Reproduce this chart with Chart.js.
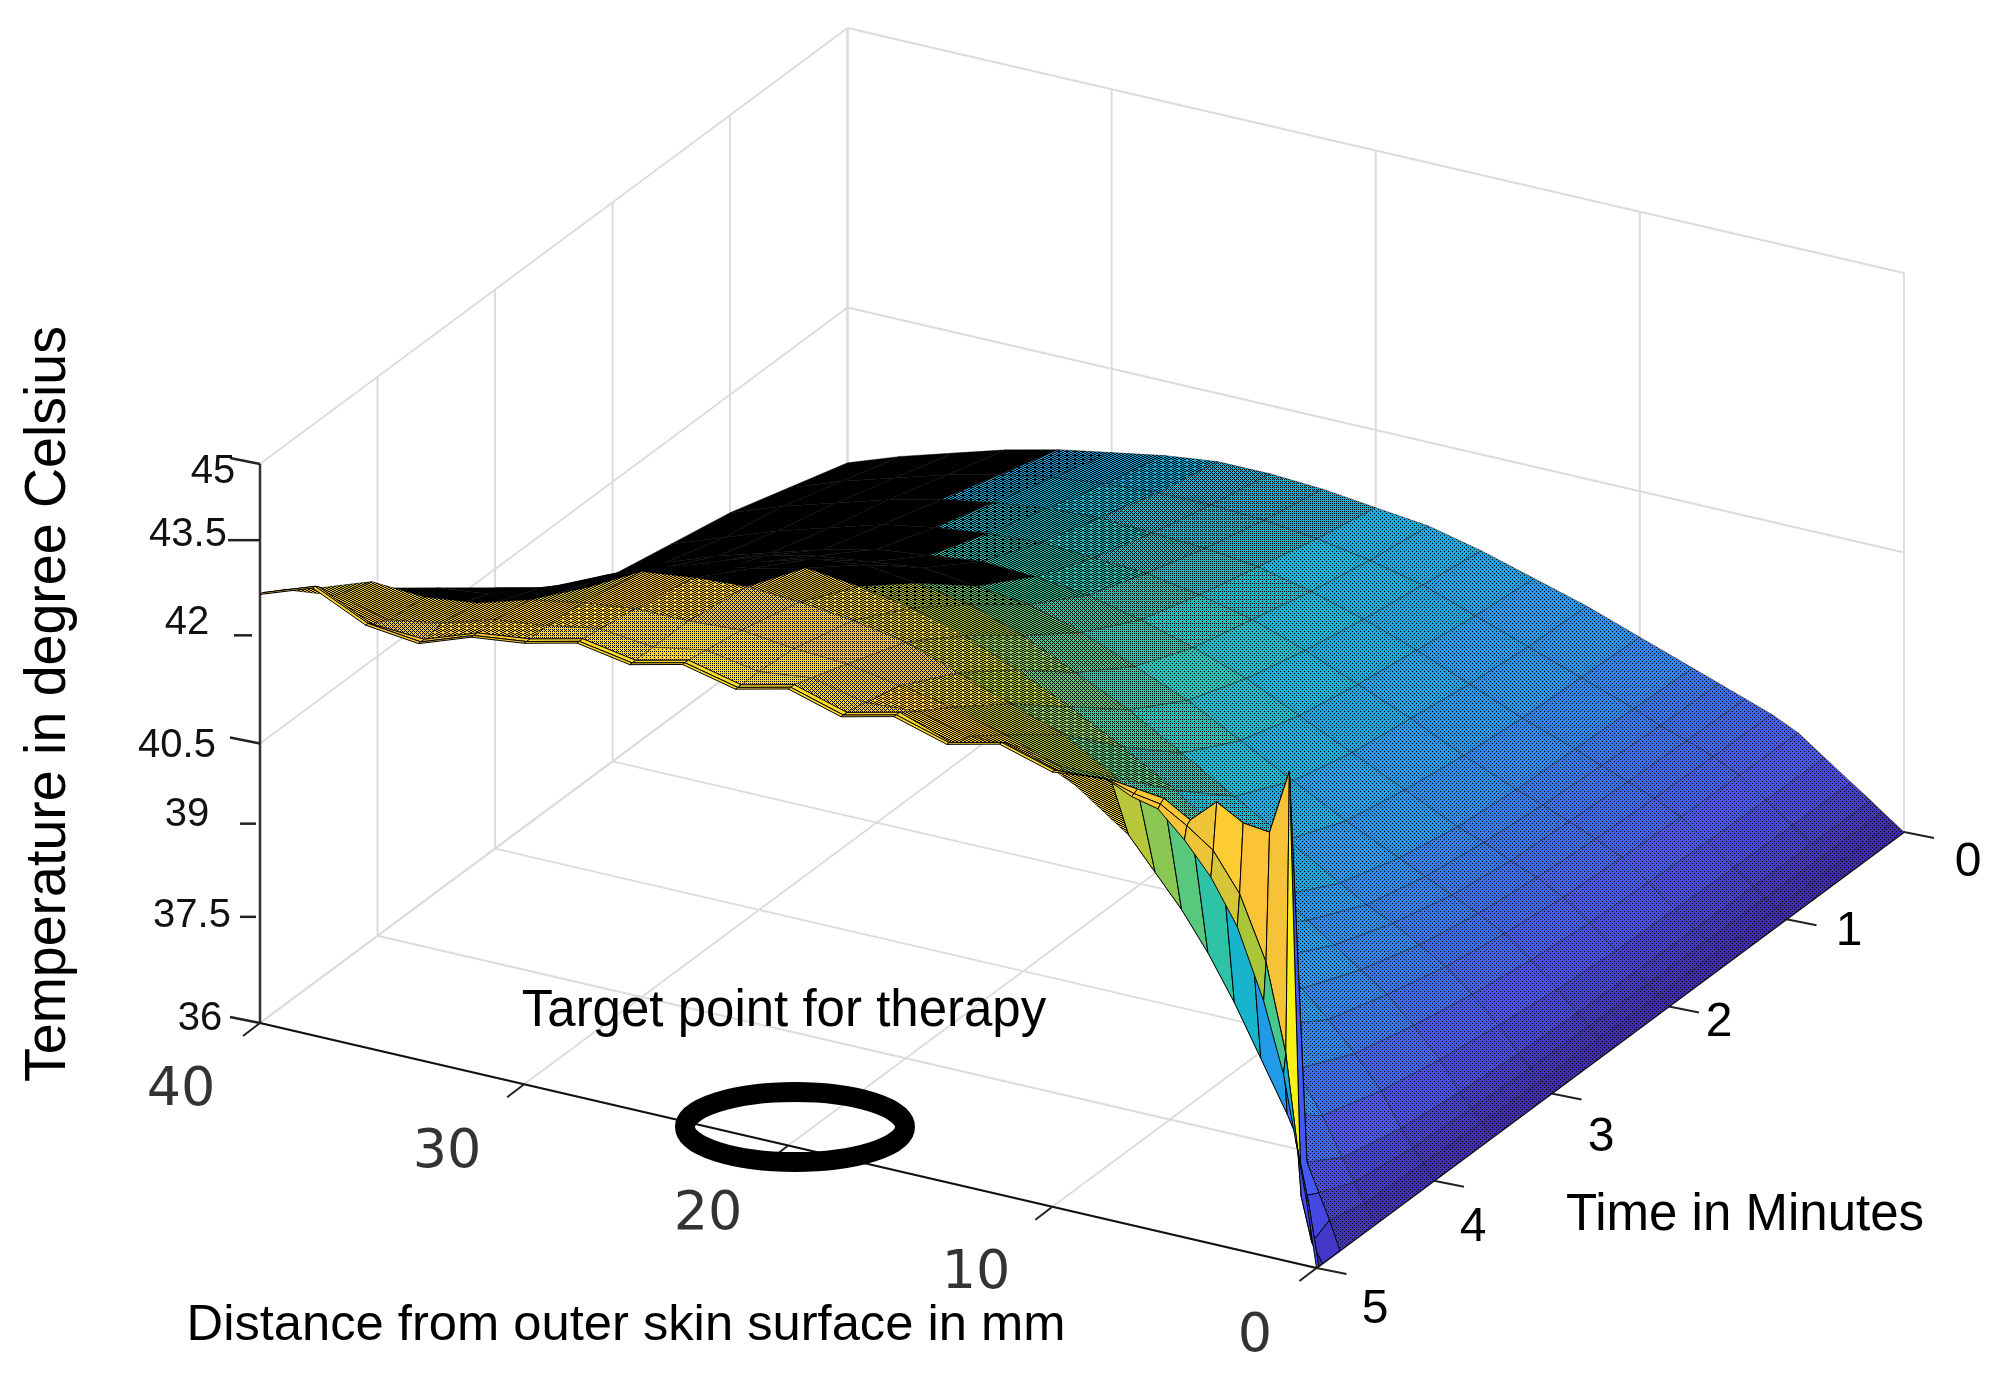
<!DOCTYPE html>
<html lang="en">
<head>
    <meta charset="UTF-8">
    <title>Temperature vs distance and time</title>
    <script src="https://cdn.jsdelivr.net/npm/chart.js"></script>
    <style>
        body { margin: 0; background: #fff; }
        #wrap { width: 2008px; height: 1379px; }
    </style>
</head>
<body>
    <div id="wrap"><canvas id="surfaceChart"></canvas></div>
    <script>
        // mm from skin surface (columns of the table below)
        const distances = [0, 0.4, 0.8, 1.25, 2, 3, 4, 5, 6, 7, 8, 10, 12, 14, 16, 18, 20, 22, 24, 26, 28, 30, 32, 34, 36, 38, 40];
        // minutes (rows of the table below)
        const times = [0, 0.5, 1, 1.5, 2, 2.5, 3, 3.5, 4, 4.5, 4.8, 4.95, 4.98, 5];
        // degree Celsius, one row per time
        const temperature = [
            [36, 36.12, 36.24, 36.38, 36.6, 36.9, 37.2, 37.4, 37.55, 37.7, 37.85, 38.15, 38.45, 38.7, 38.95, 39.15, 39.25, 39.35, 39.4, 39.4, 39.3, 39.15, 39, 38.8, 38.55, 38.3, 38],
            [36, 36.12, 36.25, 36.39, 36.61, 36.92, 37.22, 37.42, 37.58, 37.72, 37.9, 38.2, 38.5, 38.8, 39.1, 39.3, 39.45, 39.55, 39.6, 39.6, 39.55, 39.45, 39.3, 39.1, 38.85, 38.6, 38.3],
            [36, 36.13, 36.26, 36.4, 36.63, 36.95, 37.25, 37.45, 37.62, 37.78, 37.95, 38.25, 38.6, 38.95, 39.25, 39.5, 39.7, 39.8, 39.85, 39.9, 39.85, 39.75, 39.6, 39.4, 39.15, 38.9, 38.6],
            [36, 36.13, 36.27, 36.42, 36.66, 37, 37.3, 37.5, 37.68, 37.85, 38, 38.35, 38.75, 39.1, 39.45, 39.75, 39.95, 40.1, 40.15, 40.2, 40.15, 40.05, 39.9, 39.65, 39.4, 39.1, 38.8],
            [36, 36.14, 36.28, 36.44, 36.7, 37.05, 37.36, 37.58, 37.75, 37.95, 38.1, 38.5, 38.9, 39.3, 39.7, 40, 40.25, 40.45, 40.55, 40.6, 40.5, 40.4, 40.2, 39.95, 39.7, 39.4, 39],
            [36, 36.15, 36.3, 36.47, 36.78, 37.15, 37.48, 37.7, 37.9, 38.1, 38.3, 38.7, 39.15, 39.6, 40.05, 40.4, 40.75, 41, 41.1, 41.2, 41.1, 41, 40.8, 40.5, 40.2, 39.9, 39.5],
            [36, 36.17, 36.33, 36.52, 36.9, 37.3, 37.65, 37.9, 38.15, 38.35, 38.6, 39.1, 39.6, 40.1, 40.6, 41, 41.4, 41.7, 41.85, 41.95, 41.85, 41.6, 41.2, 40.95, 40.7, 40.4, 40.2],
            [36, 36.2, 36.38, 36.6, 37.05, 37.5, 37.9, 38.2, 38.5, 38.8, 39.1, 39.8, 40.4, 40.9, 41.35, 41.75, 42.1, 42.35, 42.5, 42.6, 42.4, 42.25, 42, 41.6, 41.3, 41, 40.9],
            [36, 36.24, 36.45, 36.72, 37.25, 37.75, 38.2, 38.6, 39, 39.4, 39.8, 40.7, 41.3, 41.8, 42.1, 42.4, 42.7, 42.85, 42.95, 43, 42.95, 42.85, 42.4, 42, 41.7, 41.4, 41.6],
            [36, 36.3, 36.6, 36.95, 37.55, 38.2, 38.8, 39.3, 39.8, 40.3, 40.8, 41.7, 42.2, 42.5, 42.75, 42.9, 43.05, 43.1, 43.2, 43.15, 43.15, 43.05, 42.9, 42.65, 42.55, 42.6, 42.3],
            [36, 36.45, 36.85, 37.3, 38, 38.8, 39.6, 40.3, 40.9, 41.4, 41.9, 42.5, 42.9, 42.9, 43.1, 43.05, 43.25, 43.15, 43.3, 43.15, 43.25, 43.1, 43, 42.75, 42.6, 42.8, 42.7],
            [36, 36.3, 37, 43.8, 42.75, 42.8, 43.04, 42.65, 42.9, 42.95, 43, 42.95, 43.2, 43, 43.3, 43.1, 43.35, 43.15, 43.35, 43.15, 43.3, 43.1, 43, 42.7, 42.75, 43.15, 42.85],
            [36, 37, 37.8, 39.3, 40.7, 41.7, 42.3, 42.6, 42.85, 42.92, 43.05, 43, 43.25, 43.05, 43.3, 43.1, 43.35, 43.15, 43.35, 43.15, 43.3, 43.1, 43, 42.7, 42.8, 43.2, 42.9],
            [36, 37.1, 38, 39, 40.1, 41.2, 41.9, 42.4, 42.8, 42.9, 43.1, 43, 43.25, 43.05, 43.3, 43.1, 43.35, 43.15, 43.35, 43.15, 43.3, 43.1, 43, 42.7, 42.8, 43.2, 42.9]
        ];

        const distanceTicks = [0, 10, 20, 30, 40];
        const timeTicks = [0, 1, 2, 3, 4, 5];
        const tempGridLines = [36, 40.5, 45];
        const tempTickLabels = ["36", "37.5", "39", "40.5", "42", "43.5", "45"];

        // box corners on the page
        const cornerFront = { x: 1316.5, y: 1268 };
        const cornerLeft = { x: 260, y: 1023 };
        const cornerRight = { x: 1904, y: 832 };
        const boxHeight = 559;

        // plain orthographic view
        function project(d, t, temp) {
            const a = d / 40, b = (5 - t) / 5, c = (temp - 36) / 9;
            return {
                x: cornerFront.x + a * (cornerLeft.x - cornerFront.x) + b * (cornerRight.x - cornerFront.x),
                y: cornerFront.y + a * (cornerLeft.y - cornerFront.y) + b * (cornerRight.y - cornerFront.y) - c * boxHeight
            };
        }

        // parula colormap
        const parula = [
            [62, 38, 168], [72, 82, 244], [46, 135, 247], [18, 177, 214],
            [55, 200, 151], [171, 199, 57], [254, 195, 56], [249, 251, 21]
        ];
        function colorFor(temp) {
            const c = Math.max(0, Math.min(1, (temp - 36) / 8)) * 7;
            const i = Math.min(6, Math.floor(c)), f = c - i;
            return parula[i].map((v, k) => Math.round(v + (parula[i + 1][k] - v) * f));
        }

        // the original mesh is far finer than the table, so the black grid shows up as a texture.
        // dithered tile, level = how many of the 16 tile cells show the surface colour
        const bayer = [[0, 8, 2, 10], [12, 4, 14, 6], [3, 11, 1, 9], [15, 7, 13, 5]];
        const tileCache = {};
        function meshTile(rgb, level) {
            const stretch = level < 10 ? 2 : 1;
            const key = rgb.join() + "/" + level;
            if (tileCache[key]) return tileCache[key];
            const tile = document.createElement("canvas");
            tile.width = 4 * stretch;
            tile.height = 4;
            const g = tile.getContext("2d");
            g.fillStyle = "#000";
            g.fillRect(0, 0, tile.width, 4);
            g.fillStyle = "rgb(" + rgb.join(",") + ")";
            for (let y = 0; y < 4; y++) {
                for (let x = 0; x < 4; x++) {
                    if (bayer[y][x] < level) g.fillRect(x * stretch, y, stretch, 1);
                }
            }
            tileCache[key] = g.createPattern(tile, "repeat");
            return tileCache[key];
        }

        function quadArea(p) {
            let s = 0;
            for (let i = 0; i < 4; i++) {
                const q = p[(i + 1) % 4];
                s += p[i].x * q.y - q.x * p[i].y;
            }
            return Math.abs(s) / 2;
        }

        function lineSet(points, color, width) {
            return { data: points, showLine: true, pointRadius: 0, borderColor: color, borderWidth: width, fill: false, clip: false };
        }

        function cellCorners(i, j) {
            return [
                project(distances[i], times[j], temperature[j][i]),
                project(distances[i + 1], times[j], temperature[j][i + 1]),
                project(distances[i + 1], times[j + 1], temperature[j + 1][i + 1]),
                project(distances[i], times[j + 1], temperature[j + 1][i])
            ];
        }

        // how much a cell is squashed on screen compared with the floor under it
        function squeezeOf(i, j) {
            const floor = [
                project(distances[i], times[j], 36), project(distances[i + 1], times[j], 36),
                project(distances[i + 1], times[j + 1], 36), project(distances[i], times[j + 1], 36)
            ];
            return quadArea(cellCorners(i, j)) / quadArea(floor);
        }

        // averaged with the neighbours so the texture does not jump from cell to cell
        function meanSqueeze(i, j) {
            let sum = 0, n = 0;
            for (let b = j - 1; b <= j + 1; b++) {
                for (let a = i - 1; a <= i + 1; a++) {
                    if (b < 0 || a < 0 || a > distances.length - 2 || times[b] > 4.5) continue;
                    sum += squeezeOf(a, b);
                    n++;
                }
            }
            return n ? sum / n : 1;
        }

        function buildSurface() {
            const quads = [];
            // back to front
            for (let j = 0; j < times.length - 1; j++) {
                for (let i = distances.length - 2; i >= 0; i--) {
                    const p = cellCorners(i, j);
                    const rgb = colorFor(temperature[j][i + 1]);
                    const solid = times[j] >= 4.95 || (times[j] >= 4.8 && distances[i] < 8);
                    let fillStyle, edge = "rgba(0,0,0,0.4)";
                    if (solid) {
                        fillStyle = "rgb(" + rgb.join(",") + ")";
                        edge = "#000";
                    } else {
                        const s = meanSqueeze(i, j);
                        let cover = s < 0.48 ? 0 : Math.min(0.85, 0.42 + (s - 0.5) * 0.9);
                        if (times[j] >= 4) cover = Math.max(cover, 0.5);
                        const level = Math.round(cover * 16);
                        fillStyle = level === 0 ? "#000" : meshTile(rgb, level);
                    }
                    p.push(p[0]);
                    quads.push({
                        data: p, showLine: true, pointRadius: 0, tension: 0, clip: false,
                        fill: "shape", backgroundColor: fillStyle, borderColor: edge, borderWidth: 1
                    });
                }
            }
            return quads;
        }

        function buildBox() {
            const sets = [];
            const grey = "#dcdcdc";
            distanceTicks.forEach(d => {
                sets.push(lineSet([project(d, 0, 36), project(d, 5, 36)], grey, 2));
                sets.push(lineSet([project(d, 0, 36), project(d, 0, 45)], grey, 2));
            });
            timeTicks.forEach(t => {
                sets.push(lineSet([project(0, t, 36), project(40, t, 36)], grey, 2));
                sets.push(lineSet([project(40, t, 36), project(40, t, 45)], grey, 2));
            });
            tempGridLines.forEach(v => {
                sets.push(lineSet([project(0, 0, v), project(40, 0, v)], grey, 2));
                sets.push(lineSet([project(40, 0, v), project(40, 5, v)], grey, 2));
            });
            return sets;
        }

        function offset(p, dx, dy) {
            return { x: p.x + dx, y: p.y + dy };
        }

        function buildAxes() {
            const sets = [];
            sets.push(lineSet([project(40, 5, 36), project(40, 5, 45)], "#333", 2.5));
            sets.push(lineSet([project(40, 5, 36), project(0, 5, 36)], "#111", 2));
            sets.push(lineSet([project(0, 5, 36), project(0, 0, 36)], "#111", 2));
            distanceTicks.forEach(d => {
                const p = project(d, 5, 36);
                sets.push(lineSet([p, offset(p, -17, 13)], "#222", 2));
            });
            timeTicks.forEach(t => {
                const p = project(0, t, 36);
                sets.push(lineSet([p, offset(p, 30, 6)], "#222", 2));
            });
            // the temperature ticks were pasted by hand and sit a little off the scale
            const nudge = { "36": 0, "37.5": -13, "39": -13, "40.5": 0, "42": -15, "43.5": -17, "45": 0 };
            const tickFrom = { "36": 0, "37.5": -4, "39": -4, "40.5": 0, "42": -8, "43.5": 0, "45": 0 };
            const tickLen = { "36": 30, "37.5": 16, "39": 16, "40.5": 30, "42": 18, "43.5": 32, "45": 30 };
            tempTickLabels.forEach(lab => {
                const p = offset(project(40, 5, Number(lab)), tickFrom[lab], nudge[lab]);
                const slant = ["36", "40.5", "45"].includes(lab) ? -6 : 0;
                sets.push(lineSet([p, offset(p, -tickLen[lab], slant)], "#222", 2.5));
            });
            return sets;
        }

        const textItems = [
            ["45", 213, 472, '40px "Liberation Sans"', "#111"],
            ["43.5", 188, 535, '40px "Liberation Sans"', "#111"],
            ["42", 187, 623, '40px "Liberation Sans"', "#111"],
            ["40.5", 177, 746, '40px "Liberation Sans"', "#111"],
            ["39", 187, 815, '40px "Liberation Sans"', "#111"],
            ["37.5", 192, 916, '40px "Liberation Sans"', "#111"],
            ["36", 200, 1019, '40px "Liberation Sans"', "#111"],
            ["40", 181, 1091, '54px "DejaVu Sans"', "#333"],
            ["30", 447, 1153, '54px "DejaVu Sans"', "#333"],
            ["20", 708, 1215, '54px "DejaVu Sans"', "#333"],
            ["10", 976, 1274, '54px "DejaVu Sans"', "#333"],
            ["0", 1255, 1337, '54px "DejaVu Sans"', "#333"],
            ["0", 1968, 863, '48px "Liberation Sans"', "#000"],
            ["1", 1849, 932, '48px "Liberation Sans"', "#000"],
            ["2", 1719, 1023, '48px "Liberation Sans"', "#000"],
            ["3", 1601, 1138, '48px "Liberation Sans"', "#000"],
            ["4", 1473, 1228, '48px "Liberation Sans"', "#000"],
            ["5", 1375, 1310, '48px "Liberation Sans"', "#000"],
            ["Time in Minutes", 1745, 1216, '51px "Liberation Sans"', "#000"],
            ["Target point for therapy", 784, 1012, '51px "Liberation Sans"', "#000"],
            ["Distance from outer skin surface in mm", 626, 1326, '50.7px "Liberation Sans"', "#000"]
        ];

        const labelsPlugin = {
            id: "labels",
            afterDraw(chart) {
                const ctx = chart.ctx;
                ctx.save();
                ctx.textAlign = "center";
                ctx.textBaseline = "middle";
                textItems.forEach(item => {
                    ctx.font = item[3];
                    ctx.fillStyle = item[4];
                    ctx.fillText(item[0], item[1], item[2]);
                });
                // y axis title
                ctx.save();
                ctx.translate(49, 704);
                ctx.rotate(-Math.PI / 2);
                ctx.font = '58px "Liberation Sans"';
                ctx.fillStyle = "#000";
                ctx.fillText("Temperature in degree Celsius", 0, 0, 756);
                ctx.restore();
                // ring round the target point
                ctx.beginPath();
                ctx.ellipse(795, 1127, 110, 35, 0, 0, Math.PI * 2);
                ctx.lineWidth = 20;
                ctx.strokeStyle = "#000";
                ctx.stroke();
                ctx.restore();
            }
        };

        // chart.js paints the first dataset last, so flip the back-to-front list
        const allSets = buildBox().concat(buildAxes(), buildSurface()).reverse();

        new Chart(document.getElementById("surfaceChart"), {
            type: "scatter",
            data: { datasets: allSets },
            options: {
                responsive: true,
                maintainAspectRatio: false,
                animation: false,
                events: [],
                layout: { padding: 0 },
                plugins: { legend: { display: false }, tooltip: { enabled: false } },
                scales: {
                    x: { type: "linear", min: 0, max: 2008, display: false },
                    y: { type: "linear", min: 0, max: 1379, reverse: true, display: false }
                }
            },
            plugins: [labelsPlugin]
        });
    </script>
</body>
</html>
